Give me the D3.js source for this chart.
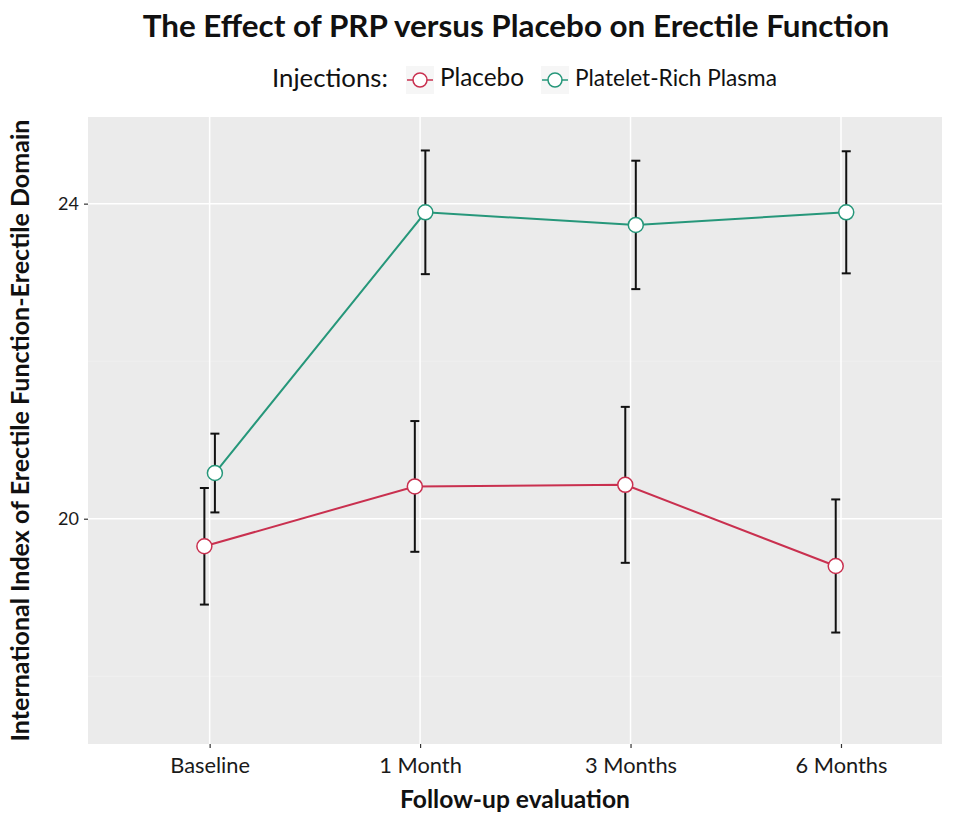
<!DOCTYPE html>
<html>
<head>
<meta charset="utf-8">
<script src="https://cdn.jsdelivr.net/npm/d3@7"></script>
<style>
  html, body { margin: 0; padding: 0; background: #ffffff; }
  svg { display: block; }
  text { font-family: Lato, "Open Sans", sans-serif; }
</style>
</head>
<body>
<div id="chart"></div>
<script>
// Follow-up time points
const categories = ["Baseline", "1 Month", "3 Months", "6 Months"];

// IIEF-EF domain means and error-bar half widths per group
const placeboMean = [19.65, 20.41, 20.43, 19.40];
const placeboErr  = [0.74, 0.83, 0.99, 0.845];
const prpMean     = [20.58, 23.89, 23.73, 23.89];
const prpErr      = [0.50, 0.785, 0.815, 0.775];

const groupNames  = ["Placebo", "Platelet-Rich Plasma"];
const yTicks      = [20, 24];
const yMinorTicks = [18, 22];

const W = 955, H = 815;
const panel = { left: 88, right: 942, top: 117, bottom: 744 };
const colors = { "Placebo": "#c9304f", "Platelet-Rich Plasma": "#26977a" };
const dodgeWidth = 0.1;

const groups = [
  { name: groupNames[0], mean: placeboMean, err: placeboErr },
  { name: groupNames[1], mean: prpMean, err: prpErr }
];

const svg = d3.select("#chart").append("svg")
  .attr("width", W).attr("height", H);

// Discrete x positions: category index with a little padding each side
const x = d3.scaleLinear()
  .domain([-0.578, categories.length - 1 + 0.48])
  .range([panel.left, panel.right]);

const y = d3.scaleLinear()
  .domain([17.14, 25.10])
  .range([panel.bottom, panel.top]);

// Shrink or grow a text node's font size until it spans the wanted width
function fitWidth(sel, target) {
  const node = sel.node();
  const fs = parseFloat(sel.attr("font-size"));
  const w = node.getComputedTextLength();
  const size = fs * target / w;
  sel.attr("font-size", size.toFixed(2));
  return size;
}

// Panel background and grid
svg.append("rect")
  .attr("x", panel.left).attr("y", panel.top)
  .attr("width", panel.right - panel.left).attr("height", panel.bottom - panel.top)
  .attr("fill", "#ebebeb");

const grid = svg.append("g");
grid.selectAll("line.minor").data(yMinorTicks).join("line")
  .attr("class", "minor")
  .attr("x1", panel.left).attr("x2", panel.right)
  .attr("y1", d => y(d)).attr("y2", d => y(d))
  .attr("stroke", "#f3f3f3").attr("stroke-width", 0.7);
grid.selectAll("line.majorY").data(yTicks).join("line")
  .attr("class", "majorY")
  .attr("x1", panel.left).attr("x2", panel.right)
  .attr("y1", d => y(d)).attr("y2", d => y(d))
  .attr("stroke", "#ffffff").attr("stroke-width", 1.5);
grid.selectAll("line.majorX").data(d3.range(categories.length)).join("line")
  .attr("class", "majorX")
  .attr("x1", d => x(d)).attr("x2", d => x(d))
  .attr("y1", panel.top).attr("y2", panel.bottom)
  .attr("stroke", "#ffffff").attr("stroke-width", 1.5);

// Axes
const yAxis = svg.append("g")
  .attr("transform", `translate(${panel.left},0)`)
  .call(d3.axisLeft(y).tickValues(yTicks).tickSize(4).tickPadding(5).tickFormat(d3.format("d")));
yAxis.select(".domain").remove();
yAxis.selectAll(".tick line").attr("stroke", "#333333").attr("stroke-width", 1.2);
yAxis.selectAll(".tick text").attr("fill", "#1a1a1a").attr("font-size", 18)
  .style("font-family", "Lato, sans-serif");

const xAxis = svg.append("g")
  .attr("transform", `translate(0,${panel.bottom})`)
  .call(d3.axisBottom(x).tickValues(d3.range(categories.length)).tickSize(4).tickPadding(10)
    .tickFormat(i => categories[i]));
xAxis.select(".domain").remove();
xAxis.selectAll(".tick line").attr("stroke", "#333333").attr("stroke-width", 1.2);
const xLabels = xAxis.selectAll(".tick text").attr("fill", "#1a1a1a").attr("font-size", 16)
  .style("font-family", "Lato, sans-serif");
const xSize = fitWidth(xLabels.filter((d, i) => i === 2), 92);
xLabels.attr("font-size", xSize.toFixed(2));

// Lines, error bars and points for each group, dodged sideways
const plot = svg.append("g");
groups.forEach((g, gi) => {
  const off = (gi - 0.5) * dodgeWidth / 2;
  const pts = categories.map((c, i) => ({ i, xv: i + off, m: g.mean[i], e: g.err[i] }));
  const gg = plot.append("g");

  gg.append("path")
    .datum(pts)
    .attr("fill", "none")
    .attr("stroke", colors[g.name])
    .attr("stroke-width", 2)
    .attr("d", d3.line().x(d => x(d.xv)).y(d => y(d.m)));

  const eb = gg.selectAll("g.eb").data(pts).join("g").attr("class", "eb")
    .attr("stroke", "#111111").attr("stroke-width", 2);
  eb.append("line")
    .attr("x1", d => x(d.xv)).attr("x2", d => x(d.xv))
    .attr("y1", d => y(d.m - d.e)).attr("y2", d => y(d.m + d.e));
  eb.append("line")
    .attr("x1", d => x(d.xv) - 4.5).attr("x2", d => x(d.xv) + 4.5)
    .attr("y1", d => y(d.m + d.e)).attr("y2", d => y(d.m + d.e));
  eb.append("line")
    .attr("x1", d => x(d.xv) - 4.5).attr("x2", d => x(d.xv) + 4.5)
    .attr("y1", d => y(d.m - d.e)).attr("y2", d => y(d.m - d.e));

  gg.selectAll("circle").data(pts).join("circle")
    .attr("cx", d => x(d.xv)).attr("cy", d => y(d.m))
    .attr("r", 7.5)
    .attr("fill", "#ffffff")
    .attr("stroke", colors[g.name])
    .attr("stroke-width", 1.5);
});

// Title
const title = svg.append("text")
  .attr("x", 516).attr("y", 37)
  .attr("text-anchor", "middle")
  .attr("font-weight", "bold")
  .attr("font-size", 28)
  .attr("fill", "#111111")
  .text("The Effect of PRP versus Placebo on Erectile Function");
fitWidth(title, 747);

// Legend
const legend = svg.append("g");
const lgY = 80;
const lgTitle = legend.append("text")
  .attr("x", 272).attr("y", lgY + 7)
  .attr("font-size", 20).attr("fill", "#111111")
  .text("Injections:");
fitWidth(lgTitle, 116);

const keyX = [420, 555];
const labelX = [440, 575];
const labelW = [84, 202];
groupNames.forEach((name, i) => {
  legend.append("rect")
    .attr("x", keyX[i] - 14).attr("y", lgY - 14)
    .attr("width", 28).attr("height", 28)
    .attr("fill", "#f6f6f6");
  legend.append("line")
    .attr("x1", keyX[i] - 13).attr("x2", keyX[i] + 13)
    .attr("y1", lgY).attr("y2", lgY)
    .attr("stroke", colors[name]).attr("stroke-width", 1.5);
  legend.append("circle")
    .attr("cx", keyX[i]).attr("cy", lgY).attr("r", 7)
    .attr("fill", "#ffffff").attr("stroke", colors[name]).attr("stroke-width", 1.5);
  const t = legend.append("text")
    .attr("x", labelX[i]).attr("y", lgY + 6)
    .attr("font-size", 17).attr("fill", "#111111")
    .text(name);
  fitWidth(t, labelW[i]);
});

// Axis titles
const xTitle = svg.append("text")
  .attr("x", (panel.left + panel.right) / 2).attr("y", 808)
  .attr("text-anchor", "middle")
  .attr("font-weight", "bold").attr("font-size", 19).attr("fill", "#111111")
  .text("Follow-up evaluation");
fitWidth(xTitle, 230);

const yTitle = svg.append("text")
  .attr("transform", `translate(29,${(panel.top + panel.bottom) / 2}) rotate(-90)`)
  .attr("text-anchor", "middle")
  .attr("font-weight", "bold").attr("font-size", 19).attr("fill", "#111111")
  .text("International Index of Erectile Function-Erectile Domain");
fitWidth(yTitle, 622);
</script>
</body>
</html>
